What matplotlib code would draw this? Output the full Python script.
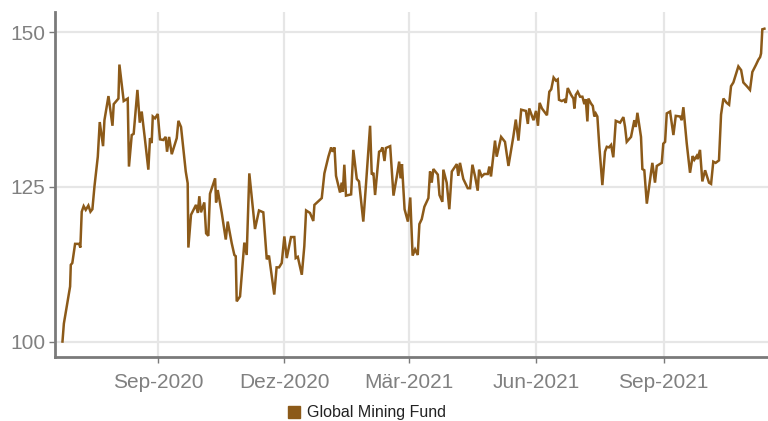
import matplotlib
matplotlib.use("Agg")
import matplotlib.pyplot as plt
import pandas as pd
from matplotlib.lines import Line2D

# Data (days counted from 2020-09-01)
day_offsets = [
    -69, -68, -63.5, -63, -61.9, -59.9, -57, -56.1, -55.1, -53.7, -52.2, -50.3,
    -48.8, -47.4, -45.9, -43.5, -42.1, -39.7, -38.7, -35.8, -32.9, -32, -28.6,
    -27.9, -24.8, -21.9, -21, -19, -17.6, -14.9, -13.2, -11.8, -9.4, -7, -5.8,
    -4.6, -3.8, -2.2, -0.2,
    1.4, 3.8, 5.5, 6.5, 8, 9.9, 13.5, 14.7, 16.6, 20, 21.4, 21.9, 23.8, 27.4,
    28.7, 29.8, 31, 33.4, 34.7, 36.3, 37.5, 41.2, 41.9, 43.1, 46, 48.9, 50.3,
    53.2, 55.1, 56.1, 56.8, 59.2, 62.3, 64, 65.9, 70, 72.9, 76, 78.5, 80.1, 82,
    83.9, 85.6, 87.4, 89.3, 91.2, 92.9, 96, 98.4, 99.4, 100.9, 103.8, 105.6,
    106.9, 109.7, 112.1, 112.9, 118.2, 120.1, 123, 125, 126.1, 127.4, 128.5,
    131.4, 132.6, 133.4, 134.5, 135.7, 139.4, 141, 143.5, 145.1, 148.2, 150.2,
    153.1, 154.3, 155.5, 156.7, 159.6, 161, 162, 163.5, 164.5, 167.6, 170,
    172.4, 174.1, 175.1, 176.1, 178, 180.4, 182.1, 183.8, 185.6, 187.5, 188.7,
    190.4, 192.3, 195.2, 196.4, 197.6, 198.8, 202, 203.2, 205.3, 206, 208.4,
    210.3, 212.1, 215.7, 216.8, 218, 220.4, 223.6, 225.3, 227, 228.9, 230.8,
    231.8, 233.7, 235.6, 238.1, 239.2, 240.4, 243.3, 244.5, 247.7, 250.5, 253,
    256.5, 258.3, 260.2, 262.2, 265.6, 267, 268, 271.1, 272.9, 274.3, 275.5,
    277.2, 280.8, 282.5, 283.9, 285.6, 287.3, 288.6, 289.5, 291.5, 293.4,
    294.4, 295.8, 298.2, 299.9, 300.6, 301.6, 303, 304.7, 306.4, 307.8, 308.8,
    310, 310.7, 312.6, 313.9, 315, 316, 317.2, 318.6, 320.8, 322.7, 324,
    325.6, 327.1, 328.7, 330.5, 333.6, 336, 337.2, 338.4, 341.5, 343.9, 344.9,
    346.1, 348.7, 349.7, 351.1, 352.9, 356.9, 358.8, 360.1, 363.7, 364.8,
    366.1, 367.3, 369.7, 372.1, 373.8, 376.9, 378.1, 379.3, 381.7, 384.1, 386,
    387.2, 388.9, 389.6, 391.3, 393, 395, 397.8, 399.3, 400.9, 402.6, 405,
    406.5, 408.2, 410.6, 412.3, 413.7, 415.4, 419, 421, 422.6, 425.1, 427.4,
    429.1, 431.6, 433.5, 434.7, 435.4, 436.3, 437.8,
]
fund_values = [
    100.0, 102.9, 108.9, 112.4, 112.7, 115.8, 115.8, 115.2, 121.0, 121.9, 121.3, 122.0,
    121.0, 121.4, 125.1, 129.9, 135.5, 131.6, 135.8, 139.7, 134.9, 138.4, 139.3,
    144.8, 138.9, 139.3, 128.3, 133.4, 133.6, 140.7, 135.4, 137.2, 132.6, 127.8, 132.9,
    132.1, 136.4, 136.1, 136.8,
    132.7, 132.6, 133.1, 130.7, 133.1, 130.3, 132.9, 135.7, 134.7, 127.5, 125.6, 115.2, 120.5, 122.1,
    120.8, 123.5, 120.9, 122.5, 117.5, 117.1, 123.9, 126.4, 122.5, 124.5, 120.8, 116.5, 119.4,
    115.9, 114.0, 113.8, 106.5, 107.3, 116.0, 114.0, 127.2, 118.2, 121.2, 120.9, 113.3, 113.9, 110.8,
    107.6, 112.0, 112.0, 112.7, 117.0, 113.5, 116.9, 116.9, 113.5, 113.7, 110.8, 115.4,
    121.2, 120.8, 119.5, 122.1, 123.2, 127.2, 129.9, 131.4, 130.7, 131.4, 126.8,
    124.1, 125.7, 124.2, 128.6, 123.6, 123.8, 131.0, 126.3, 125.9, 119.4, 125.6,
    134.9, 127.0, 127.3, 123.7, 130.7, 130.9, 131.4, 129.2, 131.3, 131.6, 123.6,
    126.7, 129.1, 126.4, 128.7, 121.4, 119.4, 123.3, 113.9, 114.9, 114.0, 119.0,
    119.8, 121.8, 123.2, 127.5, 125.7, 127.9, 127.0, 123.7, 122.6, 127.8, 125.7,
    121.4, 127.5, 128.7, 126.8, 128.9, 126.3, 124.8, 124.8, 128.6, 126.7, 124.4,
    127.8, 126.7, 127.1, 127.1, 128.3, 126.7, 132.5, 129.9, 133.1, 132.3, 128.4,
    133.1, 135.9, 132.5, 137.5, 137.3, 135.2, 137.7, 135.8, 137.3, 134.9, 138.6,
    137.7, 136.6, 140.4, 140.8, 142.7, 142.2, 142.4, 139.1, 138.9, 139.1,
    138.6, 141.0, 139.9, 139.3, 137.7, 139.9, 140.4, 139.6, 139.6, 138.4, 139.2,
    135.6, 139.3, 138.5, 138.1, 136.4, 136.9, 136.4, 131.6, 125.3, 130.7, 131.5,
    131.4, 131.8, 129.8, 135.7, 135.4, 136.3, 134.7, 132.3, 133.1, 135.8, 134.7,
    137.0, 133.1, 127.9, 127.7, 122.3, 128.9, 125.7, 128.4, 128.9, 132.0,
    132.3, 136.9, 137.2, 133.4, 136.5, 136.4, 135.8, 137.9, 132.1, 127.3, 130.0,
    129.4, 130.0, 129.5, 131.0, 125.9, 127.7, 125.7, 125.5, 129.1, 128.9, 129.3,
    136.7, 139.3, 138.6, 138.3, 141.3, 141.9, 144.5, 143.9, 141.9, 141.3, 140.7,
    143.6, 144.7, 145.6, 146.0, 146.6, 150.5, 150.6,
]

tick_dates = ["2020-09-01", "2020-12-01", "2021-03-01", "2021-06-01", "2021-09-01"]
tick_labels = ["Sep-2020", "Dez-2020", "Mär-2021", "Jun-2021", "Sep-2021"]
y_ticks = [100, 125, 150]
series_name = "Global Mining Fund"

line_color = "#8c5a19"
grid_color = "#e6e6e6"
axis_color = "#7a7a7a"
label_color = "#808080"

plt.rcParams["font.family"] = ["Liberation Sans", "DejaVu Sans"]

base = pd.Timestamp("2020-09-01")
dates = base + pd.to_timedelta(day_offsets, unit="D")

fig = plt.figure(figsize=(7.68, 4.21), dpi=100)
ax = fig.add_axes([55 / 768, 64 / 421, 713 / 768, 345 / 421])

ax.plot(dates, fund_values, color=line_color, lw=1.8, solid_joinstyle="miter", zorder=3)

ax.set_xlim(base + pd.Timedelta(days=-74.4), base + pd.Timedelta(days=440.4))
ax.set_ylim(97.5, 153.3)

ax.set_xticks(pd.to_datetime(tick_dates))
ax.set_xticklabels(tick_labels)
ax.set_yticks(y_ticks)

ax.grid(True, color=grid_color, lw=1.6, zorder=0)
ax.set_axisbelow(True)

for side in ["top", "right"]:
    ax.spines[side].set_visible(False)
for side in ["left", "bottom"]:
    ax.spines[side].set_color(axis_color)
    ax.spines[side].set_linewidth(2)

ax.tick_params(axis="x", colors=axis_color, labelcolor=label_color,
               labelsize=15, length=4, width=1, pad=7.5)
ax.tick_params(axis="y", colors=axis_color, labelcolor=label_color,
               labelsize=15, length=4, width=1, pad=3)

handle = Line2D([], [], marker="s", linestyle="none", markersize=9,
                color=line_color)
fig.legend([handle], [series_name], loc="center",
           bbox_to_anchor=(366 / 768, 1 - 413 / 421), frameon=False,
           fontsize=11.5, handletextpad=0.3, borderpad=0, handlelength=1,
           labelcolor="#222222")

fig.savefig("out.png", dpi=100)
